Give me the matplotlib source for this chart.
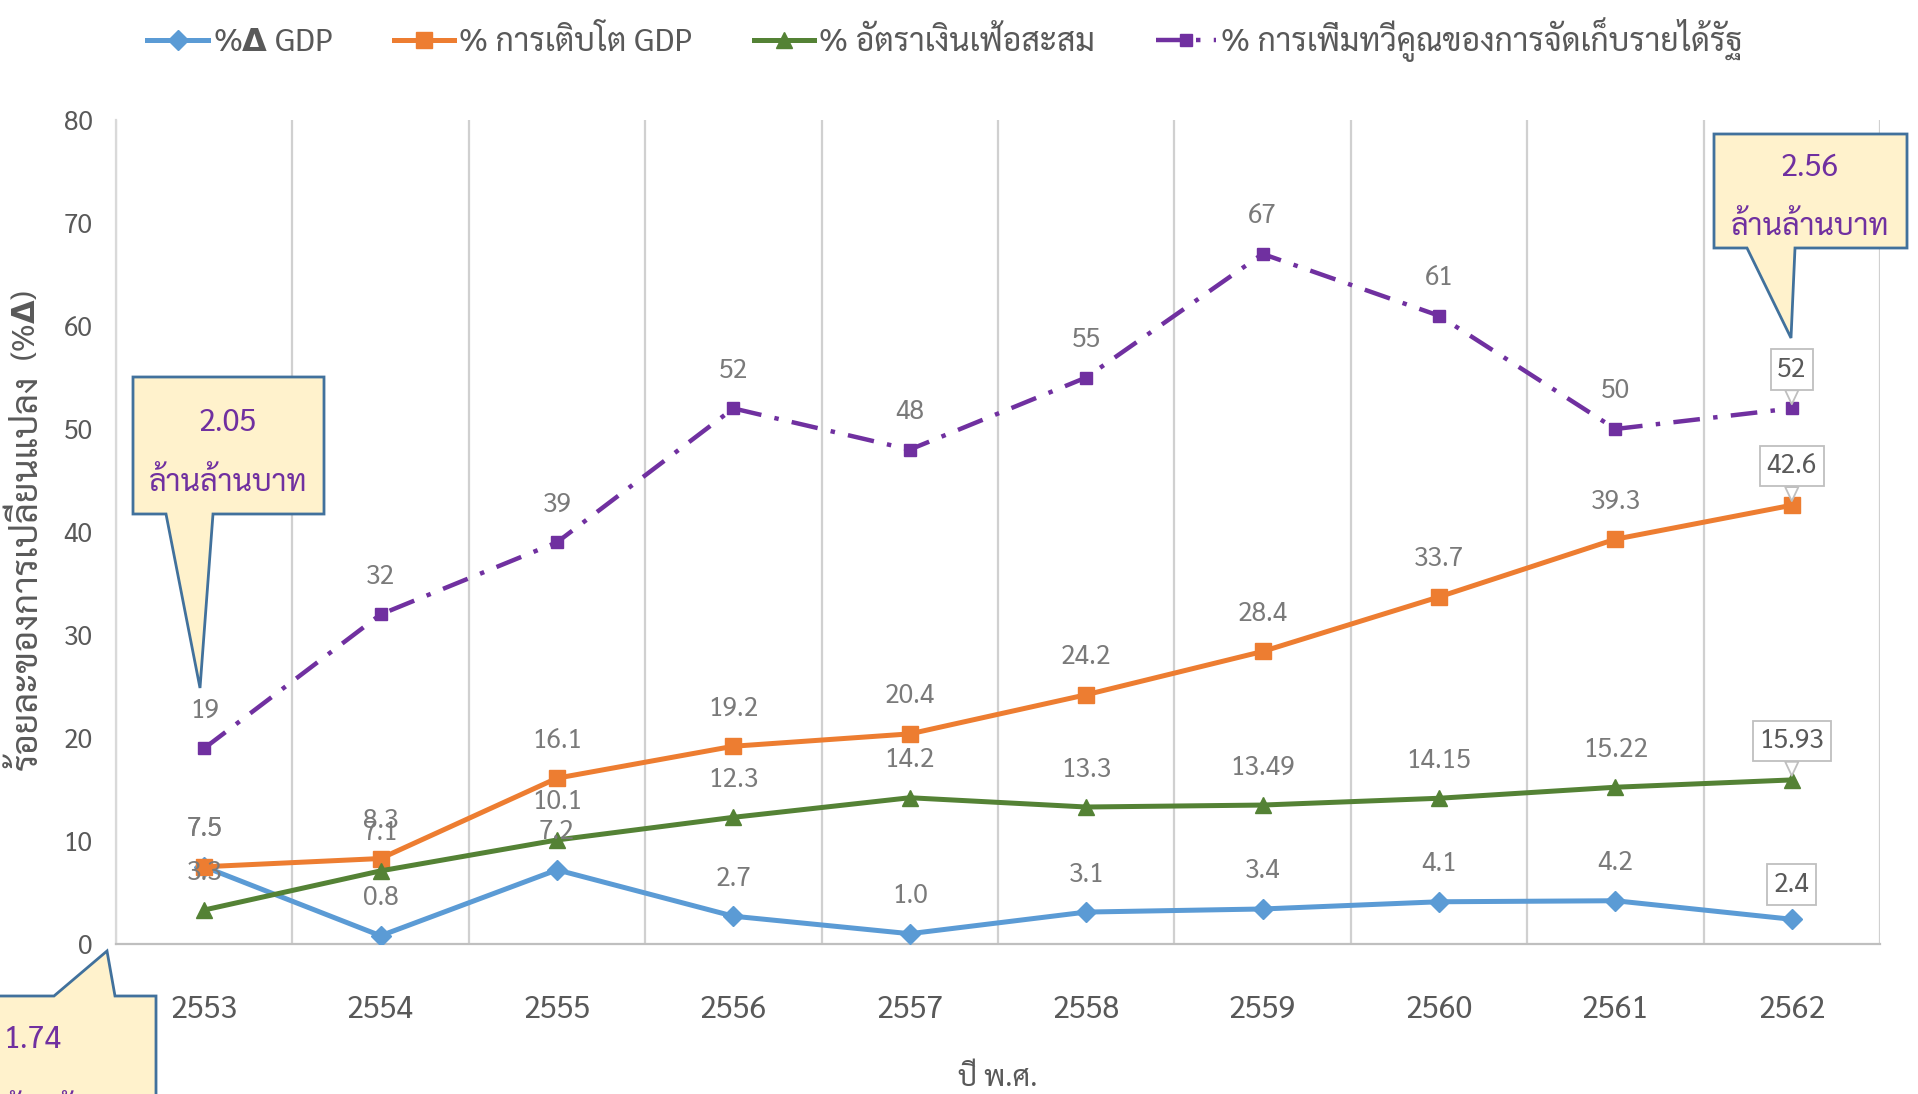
import matplotlib
matplotlib.use("Agg")
import matplotlib.pyplot as plt
from matplotlib import font_manager
from matplotlib.patches import Polygon
from matplotlib.transforms import IdentityTransform

# pick a Thai-capable font that is installed
installed = set(f.name for f in font_manager.fontManager.ttflist)
thai_font = "DejaVu Sans"
for name in ["Sarabun", "Noto Sans Thai", "Athiti", "Bai Jamjuree"]:
    if name in installed:
        thai_font = name
        break
plt.rcParams["font.family"] = [thai_font, "DejaVu Sans"]

# data
years = ["2553", "2554", "2555", "2556", "2557", "2558", "2559", "2560", "2561", "2562"]
gdp_change = [7.5, 0.8, 7.2, 2.7, 1.0, 3.1, 3.4, 4.1, 4.2, 2.4]
gdp_growth = [7.5, 8.3, 16.1, 19.2, 20.4, 24.2, 28.4, 33.7, 39.3, 42.6]
inflation = [3.3, 7.1, 10.1, 12.3, 14.2, 13.3, 13.49, 14.15, 15.22, 15.93]
revenue = [19, 32, 39, 52, 48, 55, 67, 61, 50, 52]

series_names = [r"%$\mathbf{\Delta}$ GDP", "% การเติบโต GDP", "% อัตราเงินเฟ้อสะสม",
                "% การเพิ่มทวีคูณของการจัดเก็บรายได้รัฐ"]
ylabel_text = "ร้อยละของการเปลี่ยนแปลง"
ylabel_unit = r"(%$\mathbf{\Delta}$)"
callout_values = ["2.05", "2.56", "1.74"]
callout_unit = "ล้านล้านบาท"

W, H = 1918, 1094
fig = plt.figure(figsize=(W / 100, H / 100), dpi=100)
ax = fig.add_axes([116 / W, 1 - 944 / H, 1764 / W, 824 / H])

x = list(range(len(years)))
text_gray = "#595959"
label_gray = "#7a7a7a"

ax.plot(x, gdp_change, color="#5B9BD5", lw=3.6, marker="D", ms=10, label=series_names[0], zorder=4)
ax.plot(x, gdp_growth, color="#ED7D31", lw=3.6, marker="s", ms=12, label=series_names[1], zorder=4)
ax.plot(x, inflation, color="#548235", lw=3.6, marker="^", ms=12, label=series_names[2], zorder=4)
ax.plot(x, revenue, color="#7030A0", lw=3.2, ls=(0, (6, 3, 1, 3)), marker="s", ms=9,
        label=series_names[3], zorder=4)

ax.set_xlim(-0.5, len(years) - 0.5)
ax.set_ylim(0, 80)
ax.set_yticks(range(0, 81, 10))
ax.set_xticks(x)
ax.set_xticklabels(years)
ax.set_xticks([i - 0.5 for i in range(len(years) + 1)], minor=True)
ax.grid(True, which="minor", axis="x", color="#d0d0d0", lw=1.6)
ax.tick_params(which="both", length=0)
ax.tick_params(axis="x", pad=36, labelsize=22, colors=text_gray)
ax.tick_params(axis="y", pad=17, labelsize=19, colors=text_gray)
for s in ["top", "right"]:
    ax.spines[s].set_visible(False)
ax.spines["left"].set_color("#d9d9d9")
ax.spines["bottom"].set_color("#bfbfbf")
ax.spines["left"].set_linewidth(1.6)
ax.spines["bottom"].set_linewidth(1.6)

# y label in two pieces so the delta can be bold
fig.text(27 / W, 1 - 572 / H, ylabel_text, rotation=90, ha="center", va="center",
         fontsize=26, color=text_gray)
fig.text(27 / W, 1 - 325 / H, ylabel_unit, rotation=90, ha="center", va="center",
         fontsize=22, color=text_gray)
ax.set_xlabel("ปี พ.ศ.", fontsize=21, color=text_gray, va="center")
ax.xaxis.set_label_coords(0.5, -(1078 - 944) / 824)

# data labels above the markers, last point in a boxed callout
last = len(years) - 1
for values in [gdp_change, gdp_growth, inflation, revenue]:
    for i, v in enumerate(values):
        if i == last:
            continue
        ax.annotate(str(v), (i, v), xytext=(0, 27), textcoords="offset points",
                    ha="center", va="center", fontsize=19, color=label_gray, zorder=5)

box_style = dict(boxstyle="square,pad=0.25", fc="white", ec="#bfbfbf", lw=1.3)
for values in [revenue, gdp_growth, inflation]:
    ax.annotate(str(values[last]), (last, values[last]), xytext=(0, 28), textcoords="offset points",
                ha="center", va="center", fontsize=19, color=text_gray, bbox=box_style, zorder=6,
                arrowprops=dict(arrowstyle="wedge,tail_width=0.5", fc="white", ec="#bfbfbf", lw=1.3,
                                shrinkA=0, shrinkB=3))
ax.annotate(str(gdp_change[last]), (last, gdp_change[last]), xytext=(0, 25), textcoords="offset points",
            ha="center", va="center", fontsize=19, color=text_gray, bbox=box_style, zorder=6)


# yellow speech-bubble callouts, drawn in pixel space (top-down y)
def bubble(box, base, tip, value, unit, text_x, value_y, unit_y, ha="center"):
    x0, y0, x1, y1 = box
    bx0, bx1 = base
    if tip[1] > y1:
        pts = [(x0, y0), (x1, y0), (x1, y1), (bx1, y1), tip, (bx0, y1), (x0, y1)]
    else:
        pts = [(x0, y0), (bx0, y0), tip, (bx1, y0), (x1, y0), (x1, y1), (x0, y1)]
    pts = [(px, H - py) for px, py in pts]
    fig.patches.append(Polygon(pts, closed=True, fc="#FFF2CC", ec="#41719C", lw=2,
                               transform=IdentityTransform(), figure=fig))
    fig.text(text_x / W, 1 - value_y / H, value, ha=ha, va="center", fontsize=22, color="#7030A0")
    fig.text(text_x / W, 1 - unit_y / H, unit, ha=ha, va="center", fontsize=22, color="#7030A0")


bubble((133, 377, 324, 514), (166, 213), (200, 688), callout_values[0], callout_unit, 228, 423, 483)
bubble((1714, 134, 1907, 248), (1747, 1795), (1791, 338), callout_values[1], callout_unit, 1810, 168, 227)
bubble((-5, 996, 156, 1160), (54, 115), (107, 951), callout_values[2], callout_unit, 4, 1040, 1112, ha="left")

fig.legend(loc="center", bbox_to_anchor=(945 / W, 1 - 40 / H), ncol=4, frameon=False,
           fontsize=23, handlelength=1.9, handletextpad=0.15, columnspacing=1.9,
           labelcolor=text_gray)

fig.savefig("out.png", dpi=100)
